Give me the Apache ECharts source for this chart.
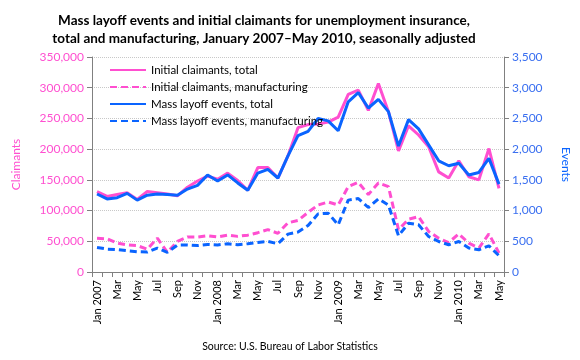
<!DOCTYPE html>
<html>
<head>
<meta charset="utf-8">
<script src="https://cdn.jsdelivr.net/npm/echarts@6/dist/echarts.min.js"></script>
<style>html,body{margin:0;padding:0;background:#fff}#c{width:580px;height:360px}</style>
</head>
<body>
<div id="c"></div>
<script>
var months = ['Jan 2007','Feb','Mar','Apr','May','Jun','Jul','Aug','Sep','Oct','Nov','Dec',
  'Jan 2008','Feb','Mar','Apr','May','Jun','Jul','Aug','Sep','Oct','Nov','Dec',
  'Jan 2009','Feb','Mar','Apr','May','Jun','Jul','Aug','Sep','Oct','Nov','Dec',
  'Jan 2010','Feb','Mar','Apr','May'];
var claimantsTotal = [131000,123000,126000,129000,118000,131000,129000,127000,124000,138000,148000,156000,
  151000,161000,149000,133000,170000,170000,153000,189000,235000,240000,241000,244000,
  252000,289000,296000,263000,307000,261000,197000,238000,223000,204000,163000,153000,
  181000,155000,150000,201000,136000];
var claimantsMfg = [55000,54000,47000,44000,43000,37000,55000,32000,50000,57000,57000,59000,
  57000,60000,58000,60000,64000,69000,63000,80000,84000,97000,109000,114000,
  109000,139000,146000,126000,145000,139000,69000,86000,90000,66000,55000,48000,
  62000,47000,39000,62000,31000];
var eventsTotal = [1270,1190,1210,1280,1170,1250,1270,1260,1250,1350,1410,1580,
  1480,1580,1450,1330,1610,1670,1530,1890,2220,2290,2500,2460,
  2300,2770,2920,2670,2810,2610,2050,2480,2330,2070,1810,1730,
  1770,1580,1620,1850,1430];
var eventsMfg = [400,373,365,346,330,325,390,320,438,440,430,449,
  440,460,443,460,480,497,460,617,650,757,946,958,
  768,1170,1195,1050,1190,1090,590,795,768,578,497,443,
  497,390,362,427,265];
var claimantTicks = [0,50000,100000,150000,200000,250000,300000,350000];
var eventTicks = [0,500,1000,1500,2000,2500,3000,3500];

var PINK = '#ff4fd0', BLUE = '#0a64ff';
var fmt = function(v){ return v.toLocaleString('en-US'); };
var chart = echarts.init(document.getElementById('c'), null, {renderer:'canvas'});
chart.setOption({
  animation:false,
  textStyle:{fontFamily:'Lato'},
  title:{
    text:'Mass layoff events and initial claimants for unemployment insurance,\ntotal and manufacturing, January 2007\u2013May 2010, seasonally adjusted',
    left:259, top:7, textAlign:'center',
    textStyle:{fontFamily:'Lato', fontWeight:'bold', fontSize:13.5, lineHeight:18, color:'#000'}
  },
  graphic:[{type:'text', left:'center', top:341, style:{text:'Source: U.S. Bureau of Labor Statistics', font:'10.5px Lato', fill:'#000'}}],
  legend:{
    orient:'vertical', left:104, top:59, itemWidth:36, itemHeight:10, itemGap:5,
    itemStyle:{opacity:0},
    textStyle:{fontFamily:'Lato', fontSize:11.5, color:'#000'},
    data:['Initial claimants, total','Initial claimants, manufacturing','Mass layoff events, total','Mass layoff events, manufacturing']
  },
  grid:{left:92, right:76, top:57, bottom:88},
  xAxis:{
    type:'category', data:months, boundaryGap:true,
    axisLine:{lineStyle:{color:'#808080'}},
    axisTick:{show:true, interval:0, length:5, lineStyle:{color:'#808080'}},
    axisLabel:{interval:1, rotate:90, fontSize:11, color:'#000', margin:8}
  },
  yAxis:[{
    type:'value', min:0, max:350000, interval:50000, name:'Claimants',
    nameLocation:'middle', nameGap:70, nameTextStyle:{color:PINK, fontSize:12},
    axisLine:{show:true, lineStyle:{color:'#808080'}},
    axisTick:{show:true, length:5, lineStyle:{color:'#808080'}},
    axisLabel:{color:PINK, fontSize:12, margin:8, formatter:function(v){return fmt(v);}},
    splitLine:{show:true, lineStyle:{color:'#c8c8c8', type:'dotted'}}
  },{
    type:'value', min:0, max:3500, interval:500, name:'Events', position:'right',
    nameLocation:'middle', nameGap:56, nameRotate:-90, nameTextStyle:{color:BLUE, fontSize:12},
    axisLine:{show:true, lineStyle:{color:'#808080'}},
    axisTick:{show:true, length:5, lineStyle:{color:'#808080'}},
    axisLabel:{color:'#3a6ff0', fontSize:12, margin:8, formatter:function(v){return fmt(v);}},
    splitLine:{show:false}
  }],
  series:[
    {name:'Initial claimants, total', type:'line', yAxisIndex:0, data:claimantsTotal, symbol:'none',
     lineStyle:{color:PINK, width:3}, itemStyle:{color:PINK}},
    {name:'Initial claimants, manufacturing', type:'line', yAxisIndex:0, data:claimantsMfg, symbol:'none',
     lineStyle:{color:PINK, width:3, type:[7,4]}, itemStyle:{color:PINK}},
    {name:'Mass layoff events, total', type:'line', yAxisIndex:1, data:eventsTotal, symbol:'none',
     lineStyle:{color:BLUE, width:3}, itemStyle:{color:BLUE}},
    {name:'Mass layoff events, manufacturing', type:'line', yAxisIndex:1, data:eventsMfg, symbol:'none',
     lineStyle:{color:BLUE, width:3, type:[7,4]}, itemStyle:{color:BLUE}}
  ]
});
</script>
</body>
</html>
